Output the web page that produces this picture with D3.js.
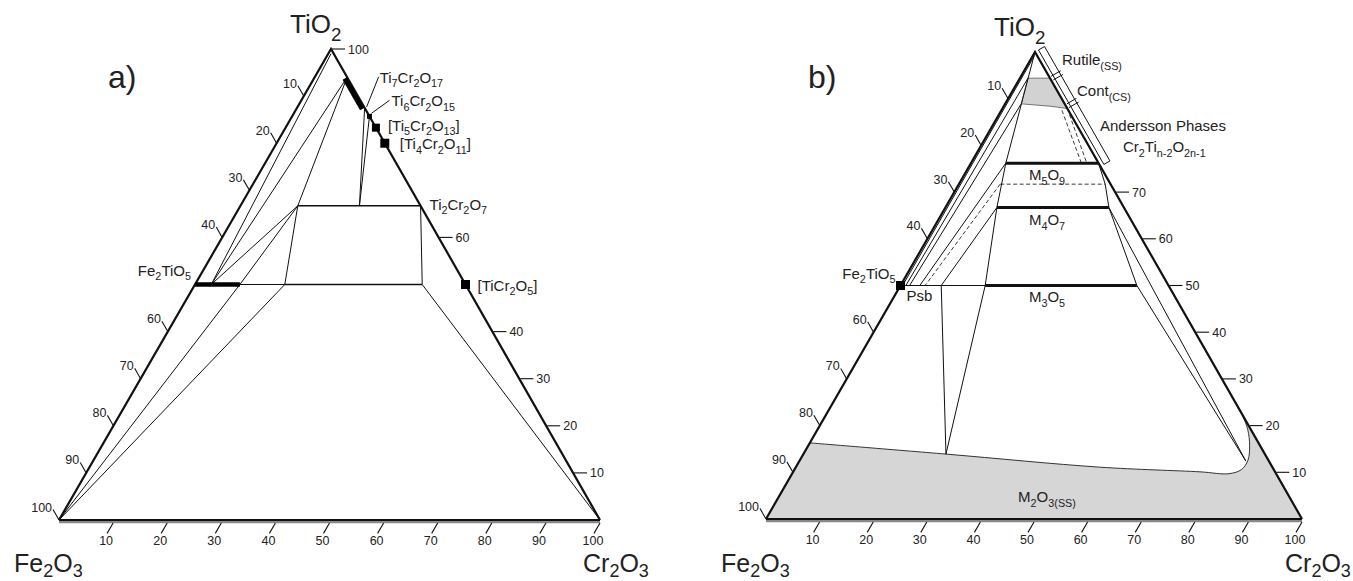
<!DOCTYPE html>
<html>
<head>
<meta charset="utf-8">
<script src="https://cdnjs.cloudflare.com/ajax/libs/d3/7.8.5/d3.min.js"></script>
<style>
  body { margin: 0; background: #fff; }
  svg { display: block; font-family: "Liberation Sans", Arial, sans-serif; }
  .edge { fill: none; stroke: #111; stroke-width: 2.2; }
  .tie { fill: none; stroke: #111; stroke-width: 1; }
  .mid { fill: none; stroke: #111; stroke-width: 1.5; }
  .thick { fill: none; stroke: #111; stroke-width: 3; }
  .dash { fill: none; stroke: #222; stroke-width: 0.9; stroke-dasharray: 4 2.5; }
  .tick { stroke: #111; stroke-width: 1.1; }
  .tlab { font-size: 12.5px; fill: #222; }
  .lab { fill: #222; }
</style>
</head>
<body>
<script>
// compositions are [TiO2 %, Cr2O3 %]; Fe2O3 is the remainder

// shared tick values
var bottomTicks = [10, 20, 30, 40, 50, 60, 70, 80, 90, 100];
var aLeftTicks = [10, 20, 30, 40, 60, 70, 80, 90, 100];
var aRightTicks = [10, 20, 30, 40, 60, 100];
var bLeftTicks = [10, 20, 30, 40, 60, 70, 80, 90, 100];
var bRightTicks = [10, 20, 30, 40, 50, 60, 70];

// ---- panel a ----
var aTies = [
  [[99, 0.5], [50, 3]],
  [[94, 6], [50, 3]],
  [[94, 6], [66.7, 10.6]],
  [[66.7, 10.6], [50, 3]],
  [[66.7, 10.6], [50, 8.3]],
  [[66.7, 10.6], [50, 16.6]],
  [[66.7, 33.3], [50, 42]],
  [[87.5, 12.5], [66.7, 22]],
  [[85.7, 14.3], [66.7, 22]],
  [[50, 8.3], [50, 16.6]],
  [[0, 0], [50, 8.3]],
  [[0, 0], [50, 16.6]],
  [[50, 42], [0, 100]]
];
var aPhases = [
  [[66.7, 10.6], [66.7, 33.3]],
  [[50, 16.6], [50, 42]]
];
var aPsb = [[50, 0], [50, 8.3]];
var aRutileBand = [[94, 6], [87.5, 12.5]];
var aCompounds = [[85.7, 14.3], [83.3, 16.7], [80, 20], [50, 50]];
var aCompoundSize = [5, 8, 9, 9];
var aLabelText = ["Ti_{7}Cr_{2}O_{17}", "Ti_{6}Cr_{2}O_{15}", "[Ti_{5}Cr_{2}O_{13}]", "[Ti_{4}Cr_{2}O_{11}]",
                  "Ti_{2}Cr_{2}O_{7}", "[TiCr_{2}O_{5}]", "Fe_{2}TiO_{5}"];
var aLabelAt = [[87.5, 12.5], [85.7, 14.3], [83.3, 16.7], [80, 20], [66.7, 33.3], [50, 50], [50, 0]];

// ---- panel b ----
var bMainBoundary = [[100, 0], [76.2, 6.5], [66.7, 9.6], [50, 15.8], [13.9, 26.6]];
var bRightBoundary = [[76.2, 23.8], [71.7, 27.3], [66.7, 30.5], [50, 44.1], [12.4, 83.3]];
var bTies = [
  [[66.7, 30.5], [12.4, 83.3]],
  [[50, 7.6], [13.9, 26.6]],
  [[50, 0], [50, 15.8]],
  [[99.2, 0.3], [50, 0.4]],
  [[94.4, 1.5], [50, 1.0]],
  [[88.9, 3.0], [50, 1.7]],
  [[76.2, 6.5], [50, 3.6]],
  [[66.7, 9.6], [50, 7.6]]
];
var bDashed = [
  [[71.7, 7.7], [50, 4.6]],
  [[71.7, 7.7], [71.7, 27.3]],
  [[87.9, 12.1], [76.2, 21.6]],
  [[87.5, 11.3], [76.2, 20.6]]
];
var bPhases = [
  [[76.2, 6.5], [76.2, 23.8]],
  [[66.7, 9.6], [66.7, 30.5]],
  [[50, 15.8], [50, 44.1]]
];
var bContField = [[94.4, 1.5], [94.4, 5.6], [87.9, 12.1], [88.4, 8.6], [88.9, 3.0]];
var bSolvus = [[16.3, 0], [13.9, 26.6], [11.1, 56.7], [10.1, 75.9], [9.7, 81.5], [10.6, 83.4],
               [12.6, 83.6], [15.8, 82.3], [19.1, 80.3], [22.3, 77.7]];
var bBracketStops = [100, 94.2, 88.3, 75.5];
var bBracketText = ["Rutile_{(SS)}", "Cont_{(CS)}", "Andersson Phases", "Cr_{2}Ti_{n-2}O_{2n-1}"];
var bPhaseText = ["M_{5}O_{9}", "M_{4}O_{7}", "M_{3}O_{5}", "M_{2}O_{3(SS)}", "Fe_{2}TiO_{5}", "Psb"];

var svg = d3.select("body").append("svg")
    .attr("width", 1353)
    .attr("height", 581);

function projector(L, R, T) {
  var cx = d3.scaleLinear().domain([0, 100]).range([0, R[0] - L[0]]);
  var tx = d3.scaleLinear().domain([0, 100]).range([0, T[0] - L[0]]);
  var ty = d3.scaleLinear().domain([0, 100]).range([L[1], T[1]]);
  return function(d) { return [L[0] + cx(d[1]) + tx(d[0]), ty(d[0])]; };
}

function chem(g, x, y, str, size, anchor, drop) {
  var t = g.append("text").attr("class", "lab")
      .attr("x", x).attr("y", y)
      .attr("font-size", size)
      .attr("text-anchor", anchor || "start");
  var parts = str.split(/(_\{[^}]*\})/).filter(function(s) { return s.length; });
  var shift = 0;
  parts.forEach(function(p) {
    var sub = p.indexOf("_{") === 0;
    var target = sub ? size * (drop || 0.3) : 0;
    t.append("tspan")
        .attr("dy", target - shift)
        .attr("font-size", sub ? size * 0.72 : size)
        .text(sub ? p.slice(2, -1) : p);
    shift = target;
  });
  return t;
}

function unit(a, b) {
  var dx = b[0] - a[0], dy = b[1] - a[1], n = Math.hypot(dx, dy);
  return [dx / n, dy / n];
}

function segs(g, p, list, cls) {
  var line = d3.line().x(function(d) { return p(d)[0]; }).y(function(d) { return p(d)[1]; });
  g.selectAll("path." + cls + "-x")
      .data(list)
    .enter().append("path")
      .attr("class", cls)
      .attr("d", line);
}

function frame(g, p, leftTicks, rightTicks) {
  var L = p([0, 0]), R = p([0, 100]), T = p([100, 0]);
  var len = 12;

  // double base line
  g.append("line").attr("x1", L[0]).attr("x2", R[0]).attr("y1", L[1] + 2.2).attr("y2", R[1] + 2.2)
      .style("stroke", "#888").style("stroke-width", 2.2);
  g.append("line").attr("x1", L[0]).attr("x2", R[0]).attr("y1", L[1]).attr("y2", R[1])
      .style("stroke", "#111").style("stroke-width", 2.2);
  g.append("path").attr("class", "edge")
      .attr("d", "M" + L + "L" + T + "L" + R);

  var dl = unit(R, T), db = unit(T, L);

  leftTicks.forEach(function(v) {
    var a = p([100 - v, 0]);
    var b = [a[0] + dl[0] * len, a[1] + dl[1] * len];
    g.append("line").attr("class", "tick").attr("x1", a[0]).attr("y1", a[1]).attr("x2", b[0]).attr("y2", b[1]);
    g.append("text").attr("class", "tlab").attr("x", b[0] - 1).attr("y", b[1] + 2)
        .attr("text-anchor", "end").text(v);
  });

  rightTicks.forEach(function(v) {
    var a = p([v, 100 - v]);
    var b = [a[0] + len + 2, a[1]];
    g.append("line").attr("class", "tick").attr("x1", a[0] + 1).attr("y1", a[1]).attr("x2", b[0]).attr("y2", b[1]);
    g.append("text").attr("class", "tlab").attr("x", b[0] + 3).attr("y", a[1] + 4.5).text(v);
  });

  bottomTicks.forEach(function(v) {
    var a = p([0, v]);
    a = [a[0], a[1] + 3];
    var b = [a[0] + db[0] * len, a[1] + db[1] * len];
    g.append("line").attr("class", "tick").attr("x1", a[0]).attr("y1", a[1]).attr("x2", b[0]).attr("y2", b[1]);
    g.append("text").attr("class", "tlab").attr("x", b[0] - 1).attr("y", b[1] + 12)
        .attr("text-anchor", "middle").text(v);
  });

  chem(g, T[0] - 41, T[1] - 16, "TiO_{2}", 26);
  chem(g, L[0] - 45, 572, "Fe_{2}O_{3}", 25, "start", 0.2);
  chem(g, R[0] - 17, 572, "Cr_{2}O_{3}", 25, "start", 0.2);
}

// ================= panel a =================
var pa = projector([59, 520], [600, 520], [331, 49]);
var ga = svg.append("g");

segs(ga, pa, aTies, "tie");
segs(ga, pa, aPhases, "mid");
frame(ga, pa, aLeftTicks, aRightTicks);

var aLine = d3.line().x(function(d) { return pa(d)[0]; }).y(function(d) { return pa(d)[1]; });
ga.append("path").attr("d", aLine(aPsb)).style("stroke", "#000").style("stroke-width", 4.5);
ga.append("path").attr("d", aLine(aRutileBand))
    .attr("transform", "translate(-2.4,1.2)")
    .style("stroke", "#000").style("stroke-width", 5);

ga.selectAll("rect.cmp")
    .data(aCompounds)
  .enter().append("rect")
    .attr("class", "cmp")
    .attr("x", function(d, i) { return pa(d)[0] - aCompoundSize[i] / 2; })
    .attr("y", function(d, i) { return pa(d)[1] - aCompoundSize[i] / 2; })
    .attr("width", function(d, i) { return aCompoundSize[i]; })
    .attr("height", function(d, i) { return aCompoundSize[i]; })
    .style("fill", "#000");

// label offsets from their compositions
var aLabelOffset = [[15, -25], [22, -10], [12, 3], [15, 6], [9, 4], [12, 6], [-4, -9]];
aLabelText.forEach(function(s, i) {
  var q = pa(aLabelAt[i]);
  chem(ga, q[0] + aLabelOffset[i][0], q[1] + aLabelOffset[i][1], s, 15, i === 6 ? "end" : "start");
});
// leader lines
[[0, [14, -31], [2, -1]], [1, [20, -16], [2, -3]]].forEach(function(l) {
  var q = pa(aLabelAt[l[0]]);
  ga.append("line").attr("class", "tie")
      .attr("x1", q[0] + l[1][0]).attr("y1", q[1] + l[1][1])
      .attr("x2", q[0] + l[2][0]).attr("y2", q[1] + l[2][1]);
});
ga.append("text").attr("x", 108).attr("y", 88).attr("font-size", 32).attr("fill", "#222").text("a)");

// ================= panel b =================
var pb = projector([766, 519], [1302, 519], [1035, 52]);
var gb = svg.append("g");
var bLine = d3.line().x(function(d) { return pb(d)[0]; }).y(function(d) { return pb(d)[1]; });

// M2O3 solid solution field
var solvusPath = d3.line().curve(d3.curveCatmullRom.alpha(0.5))
    .x(function(d) { return pb(d)[0]; }).y(function(d) { return pb(d)[1]; })(bSolvus);
var R = pb([0, 100]), L = pb([0, 0]);
gb.append("path").attr("d", solvusPath + "L" + R + "L" + L + "Z")
    .style("fill", "#d6d6d6").style("stroke", "none");
gb.append("path").attr("d", solvusPath).style("fill", "none").style("stroke", "#333").style("stroke-width", 1);

gb.append("path").attr("d", bLine(bContField) + "Z")
    .style("fill", "#d2d2d2").style("stroke", "#555").style("stroke-width", 0.8);

segs(gb, pb, bTies, "tie");
segs(gb, pb, bDashed, "dash");
segs(gb, pb, [bMainBoundary, bRightBoundary], "tie");
segs(gb, pb, bPhases, "thick");
frame(gb, pb, bLeftTicks, bRightTicks);

// Fe2TiO5 marker
var fe = pb([50, 0]);
gb.append("rect").attr("x", fe[0] - 4.5).attr("y", fe[1] - 4.5).attr("width", 9).attr("height", 9).style("fill", "#000");

// bracket along the TiO2-Cr2O3 edge
var bR = pb([0, 100]), bT = pb([100, 0]);
var dir = unit(bR, bT), nrm = [-dir[1], dir[0]];
if (nrm[0] < 0) nrm = [-nrm[0], -nrm[1]];
function off(t, d) { var q = pb([t, 100 - t]); return [q[0] + nrm[0] * d, q[1] + nrm[1] * d]; }
var t0 = bBracketStops[0], t1 = bBracketStops[3];
gb.append("path").attr("class", "tie")
    .attr("d", "M" + off(t0, 4) + "L" + off(t0, 11) + "L" + off(t1, 11) + "L" + off(t1, 4) + "Z");
[bBracketStops[1], bBracketStops[2]].forEach(function(t) {
  [-0.4, 0.4].forEach(function(k) {
    gb.append("line").attr("class", "tie")
        .attr("x1", off(t + k, 2)[0]).attr("y1", off(t + k, 2)[1])
        .attr("x2", off(t + k, 13)[0]).attr("y2", off(t + k, 13)[1]);
  });
});

// labels
var bBracketPos = [[1062, 65], [1077, 96], [1100, 131], [1123, 152]];
bBracketText.forEach(function(s, i) { chem(gb, bBracketPos[i][0], bBracketPos[i][1], s, 15); });
var bPhasePos = [[1047, 180, "middle"], [1047, 225, "middle"], [1047, 302, "middle"], [1047, 502, "middle"],
                 [fe[0] - 5, fe[1] - 7, "end"], [fe[0] + 6, fe[1] + 15, "start"]];
bPhaseText.forEach(function(s, i) { chem(gb, bPhasePos[i][0], bPhasePos[i][1], s, 15, bPhasePos[i][2]); });
gb.append("text").attr("x", 808).attr("y", 88).attr("font-size", 32).attr("fill", "#222").text("b)");
</script>
</body>
</html>
